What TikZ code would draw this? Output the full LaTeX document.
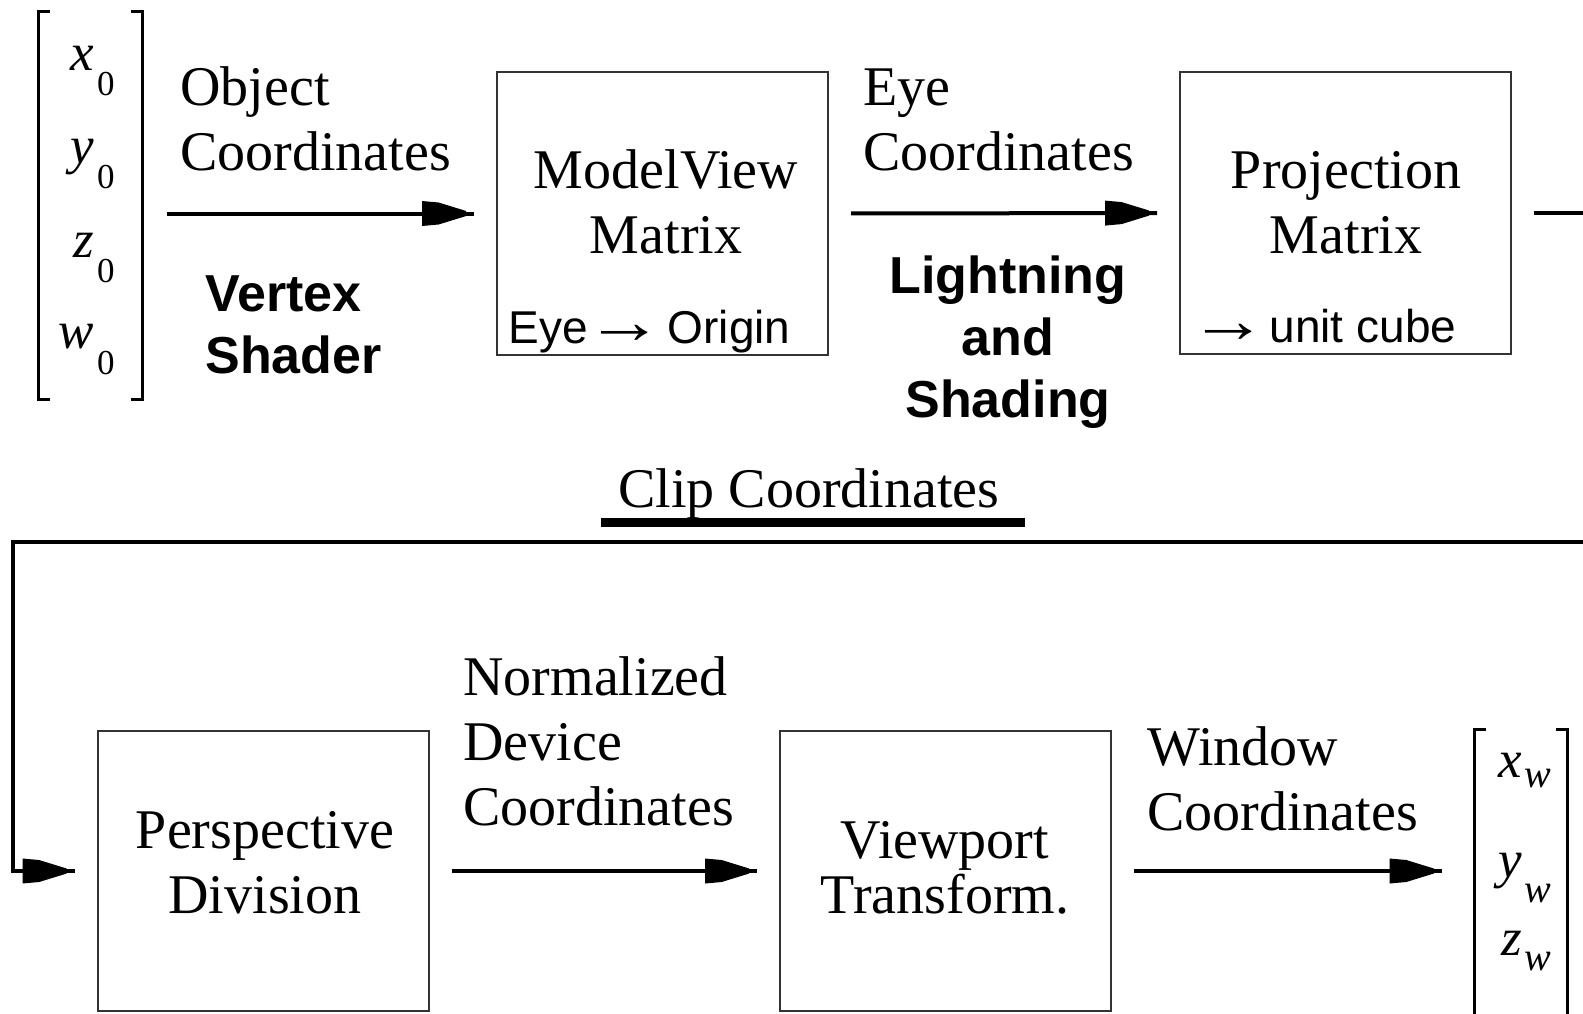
\documentclass[tikz,border=0pt]{standalone}
\usepackage{fontspec}
\setmainfont{Liberation Serif}
\newfontfamily\arialf{Liberation Sans}
\usetikzlibrary{arrows.meta}

\pgfdeclarearrow{
  name = Spike,
  parameters = {\the\pgfarrowlength,\the\pgfarrowwidth},
  setup code = {
    \pgfarrowssettipend{0pt}
    \pgfarrowssetlineend{0pt}
    \pgfarrowssetbackend{-\pgfarrowlength}
    \pgfarrowssetvisualbackend{-\pgfarrowlength}
    \pgfarrowsupperhullpoint{0pt}{0pt}
    \pgfarrowsupperhullpoint{-\pgfarrowlength}{.5\pgfarrowwidth}
    \pgfarrowssavethe\pgfarrowlength
    \pgfarrowssavethe\pgfarrowwidth
  },
  drawing code = {
    \pgfpathmoveto{\pgfqpoint{-\pgfarrowlength}{.5\pgfarrowwidth}}
    \pgfpathlineto{\pgfqpoint{-.68\pgfarrowlength}{.44\pgfarrowwidth}}
    \pgfpathlineto{\pgfqpoint{-.4\pgfarrowlength}{.26\pgfarrowwidth}}
    \pgfpathlineto{\pgfqpoint{-.15\pgfarrowlength}{.1\pgfarrowwidth}}
    \pgfpathlineto{\pgfqpoint{-.15\pgfarrowlength}{-.1\pgfarrowwidth}}
    \pgfpathlineto{\pgfqpoint{-.4\pgfarrowlength}{-.26\pgfarrowwidth}}
    \pgfpathlineto{\pgfqpoint{-.68\pgfarrowlength}{-.44\pgfarrowwidth}}
    \pgfpathlineto{\pgfqpoint{-\pgfarrowlength}{-.5\pgfarrowwidth}}
    \pgfpathclose
    \pgfusepathqfill
  },
  defaults = {length = 26pt, width = 12.5pt}
}

\newcommand\vcomp[4]{\textit{#1}\kern1.5pt\raisebox{#3}{\fontsize{#4}{#4}\selectfont #2}}
\newcommand\sarr{\scalebox{1.7}[1.4]{→}}

\tikzset{
  conn/.style={line width=2pt, -{Spike}, shorten <=11pt, shorten >=11pt},
  blk/.style={draw=black!80, line width=1pt, inner sep=0pt, minimum width=165.5pt},
  serif/.style={font=\fontsize{28}{32.5}\selectfont, inner sep=0pt},
  sansl/.style={font=\arialf\fontsize{23}{28}\selectfont, inner sep=0pt},
  sansb/.style={font=\arialf\bfseries\fontsize{26}{31}\selectfont, inner sep=0pt},
  brk/.style={line width=1.8pt},
  vc/.style={font=\fontsize{26.5}{30}\selectfont, inner sep=0pt, anchor=base east},
  vec/.style={inner sep=0pt}
}

\begin{document}
\begin{tikzpicture}[x=0.5pt,y=-0.5pt]
\path[use as bounding box, clip] (0,0) rectangle (1583,1013);
\fill[white] (0,0) rectangle (1583,1013);

% ---- boxes
\node[blk, minimum height=141.5pt] (mv) at (662.5,213.5) {};
\node[blk, minimum height=141pt] (pj) at (1345.5,213) {};
\node[blk, minimum height=140pt] (pd) at (263,871) {};
\node[blk, minimum height=140pt] (vp) at (945.5,871) {};

% ---- box texts (base = baseline of last line)
\node[serif, align=center, anchor=base] (mvt) at (666,253) {ModelView\\Matrix};
\node[sansl, anchor=base west] (mvs) at (508,343) {Eye\kern-1pt\sarr\kern2pt Origin};
\node[serif, align=center, anchor=base] (pjt) at (1346,253) {Projection\\Matrix};
\node[sansl, anchor=base west] (pjs) at (1197,342) {\kern-4pt\sarr\kern1pt unit cube};
\node[serif, align=center, anchor=base] (pdt) at (265,913) {Perspective\\Division};
\node[serif, align=center, anchor=base, font=\fontsize{28}{27.5}\selectfont] (vpt) at (945,913) {Viewport\\Transform.};

% ---- object coordinate vector
\node[vec, minimum width=51.5pt, minimum height=193.5pt] (objv) at (90.5,205.5) {};
\draw[brk] ([xshift=5.5pt]objv.north west) -- (objv.north west) -- (objv.south west) -- ([xshift=5.5pt]objv.south west);
\draw[brk] ([xshift=-5.5pt]objv.north east) -- (objv.north east) -- (objv.south east) -- ([xshift=-5.5pt]objv.south east);
\node[vc] (x0) at (115,70) {\vcomp{x}{0}{-12.5pt}{17.5}};
\node[vc] (y0) at (115,163) {\vcomp{y}{0}{-12.5pt}{17.5}};
\node[vc] (z0) at (115,257) {\vcomp{z}{0}{-12.5pt}{17.5}};
\node[vc] (w0) at (115,348) {\vcomp{w}{0}{-13pt}{17.5}};

% ---- window coordinate vector
\node[vec, minimum width=46pt, minimum height=185pt] (win) at (1521,915) {};
\draw[brk] ([xshift=5.5pt]win.north west) -- (win.north west) -- (win.south west);
\draw[brk] ([xshift=-5.5pt]win.north east) -- (win.north east) -- (win.south east);
\node[vc] (xw) at (1552,777) {\vcomp{x}{\itshape w}{-5pt}{20}};
\node[vc] (yw) at (1552,877) {\vcomp{y}{\itshape w}{-12.5pt}{20}};
\node[vc] (zw) at (1552,955) {\vcomp{z}{\itshape w}{-7.5pt}{20}};

% ---- connector labels
\node[serif, align=left, anchor=base west] (oc) at (180,170) {Object\\Coordinates};
\node[sansb, align=left, anchor=base west] (vs) at (205,373) {Vertex\\Shader};
\node[serif, align=left, anchor=base west] (ec) at (863,170) {Eye\\Coordinates};
\node[sansb, align=center, anchor=base] (ls) at (1008,417) {Lightning\\and\\Shading};
\node[serif, anchor=base west] (cc) at (618,507) {Clip Coordinates};
\coordinate (ulA) at (601,522);
\coordinate (ulB) at (1025,522);
\draw[line width=4.5pt] (ulA) -- (ulB);
\node[serif, align=left, anchor=base west] (nd) at (463,825) {Normalized\\Device\\Coordinates};
\node[serif, align=left, anchor=base west] (wc) at (1147,830) {Window\\Coordinates};

% ---- connectors
\draw[conn, shorten <=12.5pt] (objv.east |- mv.west) -- (mv.west);
\draw[conn] (mv.east) -- (pj.west);
\coordinate (fbA) at (1620,542);
\coordinate (fbB) at (13,542);
\draw[conn, line join=miter] (pj.east) -| (fbA) -- (fbB) |- (pd.west);
\draw[conn] (pd.east) -- (vp.west);
\draw[conn, shorten >=16.5pt] (vp.east) -- (vp.east -| win.west);
\end{tikzpicture}
\end{document}
